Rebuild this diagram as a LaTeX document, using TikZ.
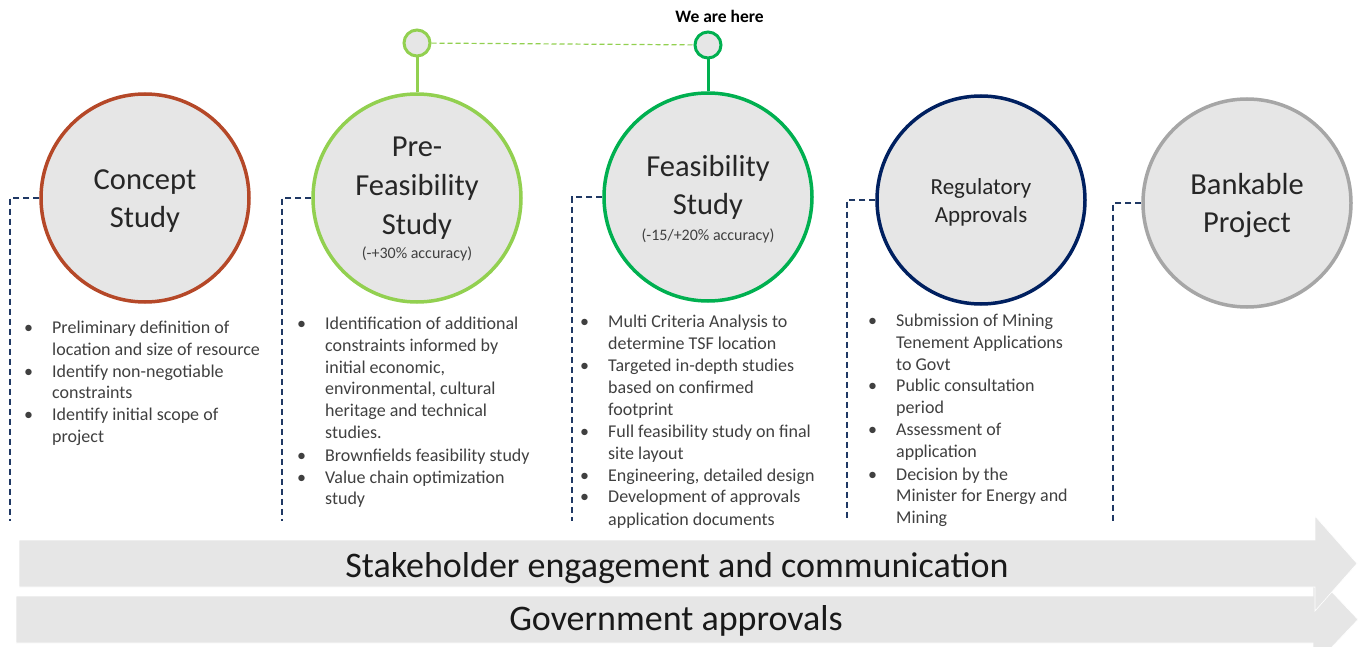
\documentclass[tikz,border=0pt]{standalone}
\usepackage{fontspec}
\setmainfont{Carlito}
\definecolor{rust}{RGB}{181,72,40}
\definecolor{lgreen}{RGB}{146,208,80}
\definecolor{dgreen}{RGB}{0,176,80}
\definecolor{navyc}{RGB}{0,32,96}
\definecolor{bgray}{RGB}{166,166,166}
\definecolor{cfill}{RGB}{230,230,230}
\definecolor{brk}{RGB}{31,56,100}
\definecolor{txt}{RGB}{38,38,38}
\definecolor{ltxt}{RGB}{64,64,64}
\newcommand{\stagelist}[1]{\begin{tabular}[t]{@{}p{28pt}@{}l@{}}#1\end{tabular}}
\begin{document}
\begin{tikzpicture}[x=1pt,y=-1pt,
 stage/.style={circle,draw=#1,fill=cfill,line width=3.5pt,minimum size=208pt,inner sep=0pt},
 pinc/.style={circle,draw=#1,fill=cfill,line width=3pt,minimum size=26pt,inner sep=0pt},
 stem/.style={draw=#1,line width=3pt},
 title/.style={anchor=base,inner sep=0pt,text=txt,align=center,font=\fontsize{30.5}{38}\selectfont},
 acc/.style={anchor=base,inner sep=0pt,text=ltxt,font=\fontsize{16}{19}\selectfont},
 bracket/.style={draw=brk,line width=1.6pt,dash pattern=on 6pt off 4pt},
 bullets/.style={anchor=base west,inner sep=0pt,text=ltxt,font=\fontsize{18}{22}\selectfont},
 band/.style={fill=cfill,draw=white,line width=0.6pt},
 bandtext/.style={anchor=base,inner sep=0pt,text=black!90,font=\fontsize{36}{40}\selectfont},
]
\useasboundingbox (0,0) rectangle (1358,647);
\fill[white] (0,0) rectangle (1358,647);

% bracket bottoms
\coordinate (b1) at (10,521);
\coordinate (b2) at (282,521);
\coordinate (b3) at (572,521);
\coordinate (b4) at (847,521);
\coordinate (b5) at (1113,521);

% stage circles
\node[stage=rust]   (c1) at (145,198) {};
\node[stage=lgreen] (c2) at (417,198) {};
\node[stage=dgreen] (c3) at (708,197) {};
\node[stage=navyc]  (c4) at (981,200) {};
\node[stage=bgray]  (c5) at (1247,203) {};

\draw[bracket] (c1.west) -| (b1);
\draw[bracket] (c2.west) -| (b2);
\draw[bracket] (c3.west) -| (b3);
\draw[bracket] (c4.west) -| (b4);
\draw[bracket] (c5.west) -| (b5);

% pins
\node[pinc=lgreen] (p1) at (417,43) {};
\node[pinc=dgreen] (p2) at (708,45) {};
\draw[stem=lgreen] (p1) -- (c2);
\draw[stem=dgreen] (p2) -- (c3);
\draw[lgreen,line width=1.2pt,dash pattern=on 5pt off 3pt] (p1) -- (p2);
\node[anchor=base,inner sep=0pt,font=\bfseries\fontsize{17.5}{20}\selectfont,text=black] (here) at (719.5,23) {We are here};

% titles
\node[title] (t1) at (145,190) {\begin{tabular}[t]{@{}c@{}}Concept\\Study\end{tabular}};
\node[title] (t2) at (417,157) {\fontsize{30.5}{39}\selectfont\begin{tabular}[t]{@{}c@{}}Pre-\\Feasibility\\Study\end{tabular}};
\node[acc] (a2) at (417,259) {(-+30\% accuracy)};
\node[title] (t3) at (708,177) {\begin{tabular}[t]{@{}c@{}}Feasibility\\Study\end{tabular}};
\node[acc] (a3) at (708,241) {(-15/+20\% accuracy)};
\node[title,font=\fontsize{23}{28}\selectfont] (t4) at (981,195) {\begin{tabular}[t]{@{}c@{}}Regulatory\\Approvals\end{tabular}};
\node[title] (t5) at (1247,195) {\begin{tabular}[t]{@{}c@{}}Bankable\\Project\end{tabular}};

% lists
\node[bullets] (l1) at (24,333) {\stagelist{%
\textbullet & Preliminary definition of\\
 & location and size of resource\\
\textbullet & Identify non-negotiable\\
 & constraints\\
\textbullet & Identify initial scope of\\
 & project}};
\node[bullets] (l2) at (297,329) {\stagelist{%
\textbullet & Identification of additional\\
 & constraints informed by\\
 & initial economic,\\
 & environmental, cultural\\
 & heritage and technical\\
 & studies.\\
\textbullet & Brownfields feasibility study\\
\textbullet & Value chain optimization\\
 & study}};
\node[bullets] (l3) at (580,327) {\stagelist{%
\textbullet & Multi Criteria Analysis to\\
 & determine TSF location\\
\textbullet & Targeted in-depth studies\\
 & based on confirmed\\
 & footprint\\
\textbullet & Full feasibility study on final\\
 & site layout\\
\textbullet & Engineering, detailed design\\
\textbullet & Development of approvals\\
 & application documents}};
\node[bullets] (l4) at (868,326) {\stagelist{%
\textbullet & Submission of Mining\\
 & Tenement Applications\\
 & to Govt\\
\textbullet & Public consultation\\
 & period\\
\textbullet & Assessment of\\
 & application\\
\textbullet & Decision by the\\
 & Minister for Energy and\\
 & Mining}};

% bands
\path[band] (16,596) -- (1313,596) -- (1313,572) -- (1358,619.5) -- (1313,667) -- (1313,643) -- (16,643) -- cycle;
\path[band] (19,540) -- (1315,540) -- (1315,516) -- (1357,563.5) -- (1315,611) -- (1315,587) -- (19,587) -- cycle;
\node[bandtext] (s1) at (677,577) {Stakeholder engagement and communication};
\node[bandtext] (s2) at (676,630) {Government approvals};
\end{tikzpicture}
\end{document}
